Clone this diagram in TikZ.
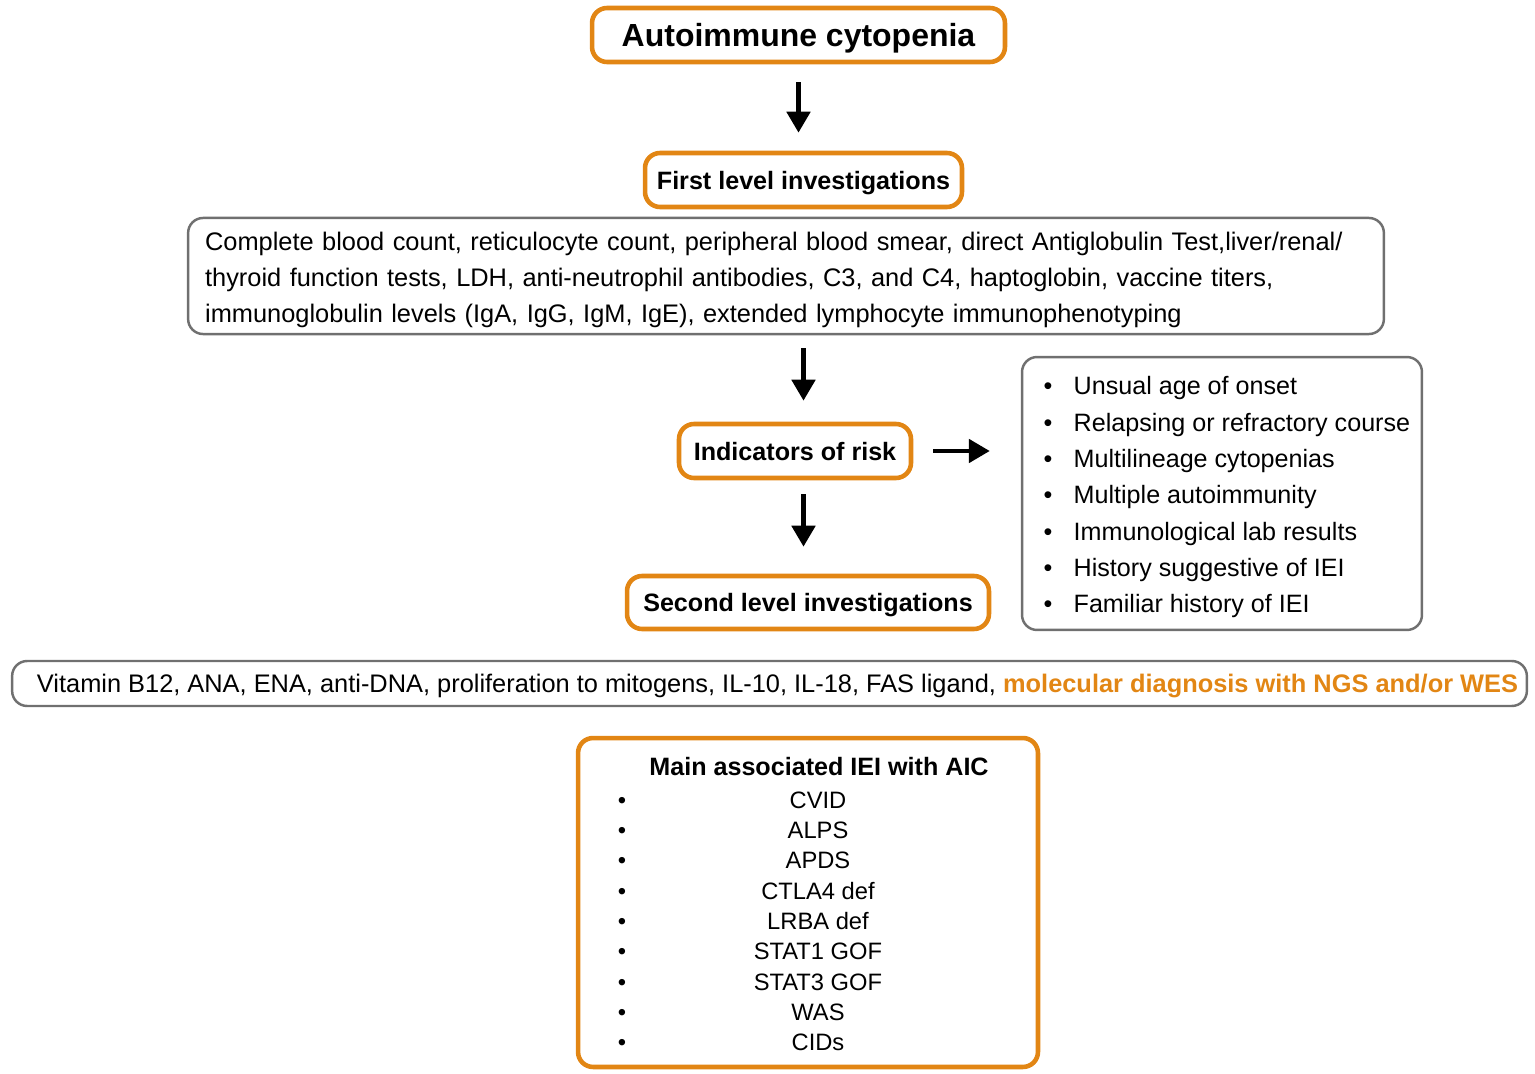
\documentclass[tikz,border=0pt]{standalone}
\usepackage{fontspec}
\setmainfont{Liberation Sans}
\usetikzlibrary{arrows.meta}
\definecolor{aicorange}{RGB}{226,134,20}
\definecolor{boxgray}{RGB}{112,112,112}
\tikzset{
  every picture/.style={line width=0.75pt},
  orangebox/.style={draw=aicorange, line width=2.6pt, rounded corners=0.3cm, inner sep=0pt, text depth=0pt, font=\fontsize{14.3}{17}\selectfont\bfseries},
  graybox/.style={draw=boxgray, line width=1.4pt, rounded corners=0.3cm, font=\fontsize{14.45}{20.7}\selectfont},
  listtext/.style={inner sep=0pt, font=\fontsize{14.3}{17}\selectfont},
  ieitext/.style={inner sep=0pt, font=\fontsize{13.5}{16}\selectfont},
  arr/.style={line width=2.8pt, -{Triangle[width=0.46cm,length=0.42cm]}},
}

\begin{document}
\begin{tikzpicture}[x=0.02cm, y=-0.02cm]
    \useasboundingbox (0,0) rectangle (1535,1074);
    % main column
    \node[orangebox, minimum width=8.26cm, minimum height=1.08cm, font=\fontsize{18.2}{22}\selectfont\bfseries] (aic) at (798.5,35) {Autoimmune cytopenia};
    \node[orangebox, minimum width=6.34cm, minimum height=1.08cm] (first) at (803.5,180) {First level investigations};
    \node[graybox, text width=23.24cm, inner xsep=0.34cm, minimum height=2.32cm, align=left] (info) at (786,276) {\rule{0pt}{15pt}Complete blood count, reticulocyte count, peripheral blood smear, direct Antiglobulin Test,liver/renal/\\thyroid function tests, LDH, anti-neutrophil antibodies, C3, and C4, haptoglobin, vaccine titers,\\immunoglobulin levels (IgA, IgG, IgM, IgE), extended lymphocyte immunophenotyping};
    \node[orangebox, minimum width=4.64cm, minimum height=1.08cm] (ind) at (795,451) {Indicators of risk};
    \node[orangebox, minimum width=7.24cm, minimum height=1.06cm] (second) at (808,602.5) {Second level investigations};
    \node[graybox, minimum width=30.3cm, minimum height=0.9cm, inner sep=0pt, text depth=0pt] (tests) at (769.5,683.5) {\hspace*{0.32cm}Vitamin B12, ANA, ENA, anti-DNA, proliferation to mitogens, IL-10, IL-18, FAS ligand, \textcolor{aicorange}{\bfseries molecular diagnosis with NGS and/or WES}};
    % risk indicators
    \node[graybox, minimum width=8cm, minimum height=5.46cm] (riskbox) at (1222,493.5) {};
    \foreach \txt [count=\i] in {Unsual age of onset, Relapsing or refractory course, Multilineage cytopenias, Multiple autoimmunity, Immunological lab results, History suggestive of IEI, Familiar history of IEI} {
        \node[listtext, anchor=base west] (risk\i) at (1073,{395+36.3*(\i-1)}) {\txt};
        \node[listtext, anchor=base] at (1048,{395+36.3*(\i-1)}) {\textbullet};
    }
    % associated IEI
    \node[orangebox, minimum width=9.2cm, minimum height=6.58cm] (iei) at (808,902.5) {};
    \node[orangebox, draw=none, anchor=base] (ieititle) at (819,775) {Main associated IEI with AIC};
    \foreach \txt [count=\i] in {CVID, ALPS, APDS, CTLA4 def, LRBA def, STAT1 GOF, STAT3 GOF, WAS, CIDs} {
        \node[ieitext, anchor=base] (iei\i) at (818,{808+30.35*(\i-1)}) {\txt};
        \node[ieitext, anchor=base] at (622,{808+30.35*(\i-1)}) {\textbullet};
    }
    % arrows
    \draw[arr, shorten <=0.36cm, shorten >=0.36cm] (aic.south) -- (aic.south |- first.north);
    \draw[arr, shorten <=0.26cm, shorten >=0.42cm] (info.south -| first) -- (ind.north -| first);
    \draw[arr, shorten <=0.28cm, shorten >=0.54cm] (ind.south -| first) -- (second.north -| first);
    \draw[arr, shorten <=0.4cm, shorten >=0.62cm] (ind.east) -- (ind.east -| riskbox.west);
\end{tikzpicture}
\end{document}
